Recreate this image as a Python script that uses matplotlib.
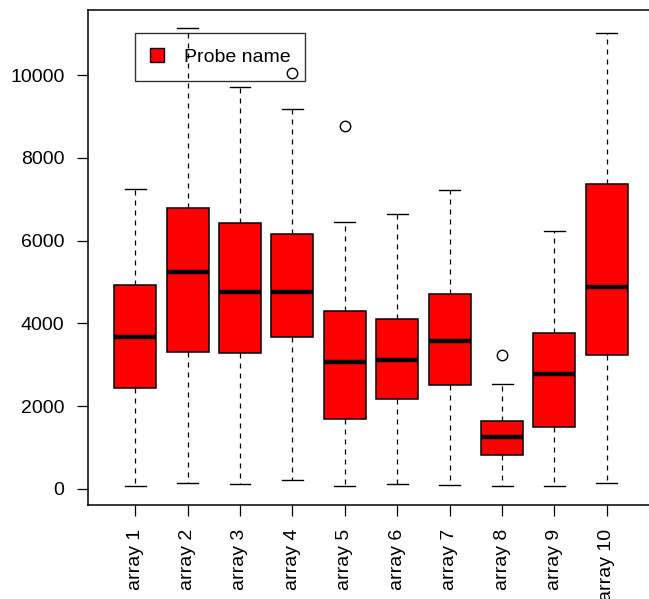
import matplotlib
matplotlib.use("Agg")
from matplotlib import pyplot as plt
from matplotlib.patches import Patch

plt.rcParams['font.family'] = ['Liberation Sans', 'DejaVu Sans']

# Summary stats (per array)
labels  = ["array 1", "array 2", "array 3", "array 4", "array 5",
           "array 6", "array 7", "array 8", "array 9", "array 10"]
wlo     = [72, 145, 105, 201, 56, 113, 81, 56, 56, 129]
q1      = [2432, 3301, 3293, 3679, 1691, 2158, 2512, 821, 1481, 3237]
med     = [3679, 5249, 4750, 4758, 3068, 3116, 3567, 1256, 2778, 4879]
q3      = [4928, 6787, 6417, 6151, 4292, 4114, 4702, 1634, 3760, 7360]
whi     = [7246, 11128, 9703, 9171, 6449, 6635, 7214, 2536, 6224, 11014]
outliers = [[], [], [], [10056], [8768], [], [], [3229], [], []]

stats = []
for i in range(len(labels)):
    stats.append(dict(label=labels[i], whislo=wlo[i], q1=q1[i], med=med[i],
                      q3=q3[i], whishi=whi[i], fliers=outliers[i]))

W, H = 649, 599
fig = plt.figure(figsize=(W / 100, H / 100), dpi=100)
# plot region runs a bit past the right edge, like the cropped original
ax = fig.add_axes([88 / W, (H - 505) / H, (654 - 88) / W, (505 - 10) / H])

ax.bxp(stats, positions=range(1, 11), widths=0.8, patch_artist=True,
       boxprops=dict(facecolor="#ff0000", edgecolor="black", linewidth=1.1),
       medianprops=dict(color="black", linewidth=3.2, solid_capstyle="butt"),
       whiskerprops=dict(color="black", linewidth=0.9, linestyle=(0, (4, 4))),
       capprops=dict(color="black", linewidth=1.0),
       capwidths=0.4,
       flierprops=dict(marker="o", markersize=7.5, markerfacecolor="none",
                       markeredgecolor="black", markeredgewidth=1.0))

ax.set_xlim(0.1, 10.9)
ax.set_ylim(-393, 11573)
ax.set_yticks([0, 2000, 4000, 6000, 8000, 10000])
ax.set_xticks(range(1, 11))
ax.set_xticklabels(labels, rotation=90)
ax.tick_params(axis="both", length=8, width=0.9, pad=9, labelsize=14)

for s in ax.spines.values():
    s.set_linewidth(1.1)
    s.set_color("black")

# R-style legend: open frame, no fill, marks show through
h = Patch(facecolor="#ff0000", edgecolor="black", linewidth=1.0)
leg = ax.legend([h], ["Probe name"], loc="upper left",
                bbox_to_anchor=(0.083, 0.9535), borderaxespad=0,
                fontsize=14, fancybox=False, edgecolor="black",
                handlelength=0.72, handleheight=0.68, handletextpad=1.0,
                borderpad=0.78)
leg.get_frame().set_facecolor("none")
leg.get_frame().set_linewidth(1.0)

fig.savefig("out.png", dpi=100)
